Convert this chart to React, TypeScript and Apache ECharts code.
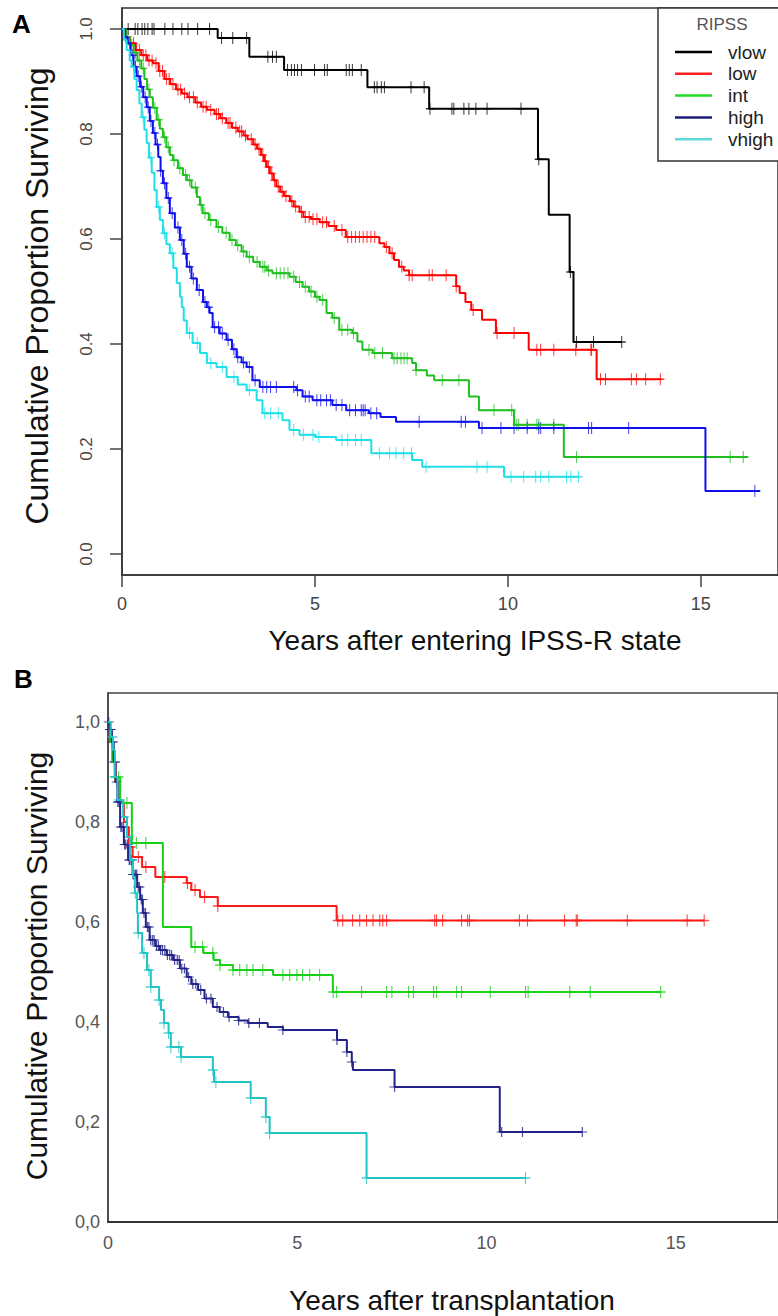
import React, { useEffect, useRef } from "react";
import * as echarts from "echarts";

// ---------- Panel A (years after entering IPSS-R state) ----------
// step points: [time, survival after the drop]
const aVlowSteps = [[0, 1], [2.48, 0.983], [3.3, 0.947], [4.2, 0.922], [6.36, 0.889], [7.96, 0.848], [10.78, 0.752], [11.06, 0.646], [11.6, 0.537], [11.7, 0.404]];
const aVlowEnd = 12.95;
const aVlowCensor = [0.16, 0.34, 0.41, 0.52, 0.59, 0.67, 0.78, 0.83, 1.11, 1.32, 1.55, 1.71, 1.96, 2.27, 2.58, 2.87, 3.23, 3.78, 3.9, 4.0, 4.29, 4.39, 4.47, 4.55, 4.65, 4.99, 5.25, 5.32, 5.81, 5.89, 5.97, 6.2, 6.54, 6.61, 6.72, 6.8, 7.49, 7.83, 7.98, 8.55, 8.6, 8.86, 8.99, 9.17, 9.46, 10.34, 10.8, 11.62, 11.78, 12.22, 12.95];

const aLowSteps = [[0, 1], [0.1, 0.985], [0.2, 0.973], [0.35, 0.96], [0.5, 0.95], [0.65, 0.94], [0.8, 0.935], [0.95, 0.92], [1.1, 0.905], [1.25, 0.895], [1.4, 0.885], [1.55, 0.877], [1.7, 0.87], [1.9, 0.86], [2.05, 0.852], [2.2, 0.846], [2.4, 0.838], [2.55, 0.83], [2.7, 0.821], [2.85, 0.812], [3.0, 0.805], [3.15, 0.797], [3.25, 0.79], [3.4, 0.78], [3.5, 0.772], [3.6, 0.76], [3.68, 0.748], [3.75, 0.737], [3.83, 0.725], [3.92, 0.712], [4.0, 0.7], [4.1, 0.69], [4.2, 0.682], [4.35, 0.672], [4.45, 0.662], [4.6, 0.652], [4.7, 0.642], [4.9, 0.638], [5.12, 0.632], [5.35, 0.625], [5.55, 0.617], [5.8, 0.604], [6.67, 0.592], [6.8, 0.585], [6.93, 0.573], [7.05, 0.56], [7.18, 0.547], [7.3, 0.54], [7.44, 0.531], [8.66, 0.51], [8.75, 0.497], [8.9, 0.48], [9.05, 0.465], [9.33, 0.446], [9.69, 0.421], [10.54, 0.389], [12.3, 0.333]];
const aLowEnd = 13.98;
const aLowCensor = [0.12, 0.22, 0.3, 0.38, 0.45, 0.55, 0.62, 0.7, 0.78, 0.88, 0.98, 1.05, 1.15, 1.22, 1.32, 1.45, 1.52, 1.62, 1.75, 1.85, 1.95, 2.1, 2.18, 2.3, 2.45, 2.5, 2.6, 2.75, 2.8, 2.95, 3.05, 3.1, 3.2, 3.35, 3.45, 3.55, 3.65, 3.72, 3.8, 3.88, 3.95, 4.05, 4.15, 4.25, 4.4, 4.5, 4.65, 4.75, 4.85, 4.95, 5.05, 5.2, 5.3, 5.5, 5.7, 5.85, 5.95, 6.05, 6.15, 6.25, 6.35, 6.45, 6.55, 6.85, 7.0, 7.25, 7.44, 7.52, 7.96, 8.04, 8.4, 8.66, 9.1, 9.72, 10.16, 10.75, 10.85, 11.19, 11.76, 12.15, 12.17, 12.4, 12.53, 13.2, 13.33, 13.57, 13.95];

const aIntSteps = [[0, 1], [0.1, 0.985], [0.2, 0.97], [0.3, 0.955], [0.4, 0.94], [0.5, 0.925], [0.58, 0.905], [0.65, 0.885], [0.72, 0.87], [0.8, 0.85], [0.9, 0.827], [0.98, 0.81], [1.06, 0.794], [1.15, 0.775], [1.24, 0.76], [1.32, 0.75], [1.45, 0.735], [1.58, 0.722], [1.68, 0.712], [1.8, 0.698], [1.94, 0.68], [2.02, 0.665], [2.09, 0.649], [2.25, 0.636], [2.45, 0.623], [2.6, 0.612], [2.79, 0.598], [2.95, 0.588], [3.1, 0.576], [3.23, 0.566], [3.4, 0.556], [3.57, 0.547], [3.75, 0.54], [3.9, 0.535], [4.34, 0.528], [4.5, 0.518], [4.68, 0.509], [4.85, 0.5], [5.0, 0.49], [5.12, 0.484], [5.3, 0.459], [5.45, 0.45], [5.63, 0.427], [5.97, 0.421], [6.1, 0.405], [6.23, 0.389], [6.5, 0.383], [7.0, 0.373], [7.52, 0.364], [7.62, 0.35], [7.9, 0.34], [8.09, 0.331], [8.99, 0.3], [9.25, 0.274], [10.16, 0.246], [11.45, 0.185]];
const aIntEnd = 16.23;
const aIntCensor = [0.15, 0.25, 0.35, 0.45, 0.55, 0.7, 0.85, 0.95, 1.1, 1.2, 1.35, 1.5, 1.65, 1.75, 1.9, 2.05, 2.15, 2.3, 2.5, 2.7, 2.85, 3.0, 3.15, 3.3, 3.5, 3.65, 3.7, 3.8, 4.0, 4.1, 4.2, 4.3, 4.45, 4.6, 4.75, 4.9, 5.05, 5.2, 5.5, 5.7, 5.85, 6.0, 6.4, 6.55, 6.75, 7.05, 7.13, 7.23, 7.31, 7.39, 7.62, 8.3, 8.73, 9.64, 10.1, 10.23, 10.28, 10.5, 10.75, 10.8, 11.19, 11.78, 15.76, 16.1];

const aHighSteps = [[0, 1], [0.08, 0.985], [0.15, 0.973], [0.22, 0.95], [0.3, 0.928], [0.38, 0.91], [0.47, 0.89], [0.55, 0.87], [0.64, 0.851], [0.72, 0.825], [0.8, 0.802], [0.87, 0.78], [0.94, 0.756], [1.0, 0.73], [1.06, 0.706], [1.15, 0.678], [1.24, 0.649], [1.37, 0.622], [1.5, 0.598], [1.6, 0.572], [1.68, 0.547], [1.8, 0.525], [1.94, 0.503], [2.1, 0.48], [2.2, 0.47], [2.27, 0.459], [2.35, 0.432], [2.53, 0.42], [2.71, 0.408], [2.85, 0.39], [2.97, 0.375], [3.1, 0.365], [3.23, 0.356], [3.38, 0.331], [3.57, 0.318], [4.52, 0.312], [4.68, 0.3], [4.94, 0.293], [5.45, 0.284], [5.81, 0.274], [6.4, 0.268], [6.7, 0.261], [7.1, 0.252], [9.25, 0.24], [15.12, 0.12]];
const aHighEnd = 16.54;
const aHighCensor = [0.1, 0.2, 0.28, 0.35, 0.42, 0.5, 0.6, 0.68, 0.75, 0.85, 0.92, 1.0, 1.1, 1.2, 1.3, 1.45, 1.55, 1.65, 1.75, 1.85, 2.0, 2.15, 2.25, 2.4, 2.5, 2.6, 2.75, 2.9, 3.0, 3.15, 3.3, 3.45, 3.65, 3.75, 3.85, 4.0, 4.45, 4.55, 4.75, 4.85, 5.05, 5.15, 5.3, 5.4, 5.55, 5.7, 5.9, 6.05, 6.2, 6.25, 6.3, 6.45, 6.6, 7.7, 8.79, 8.9, 9.33, 9.82, 10.16, 10.5, 10.8, 10.85, 11.19, 12.09, 12.17, 13.13, 16.4];

const aVhighSteps = [[0, 1], [0.05, 0.979], [0.12, 0.96], [0.2, 0.94], [0.25, 0.928], [0.32, 0.905], [0.38, 0.884], [0.45, 0.858], [0.51, 0.832], [0.58, 0.808], [0.64, 0.783], [0.7, 0.755], [0.77, 0.726], [0.84, 0.693], [0.9, 0.661], [0.98, 0.636], [1.06, 0.611], [1.15, 0.59], [1.24, 0.573], [1.33, 0.545], [1.42, 0.516], [1.5, 0.49], [1.55, 0.47], [1.6, 0.445], [1.68, 0.421], [1.83, 0.402], [2.02, 0.383], [2.2, 0.364], [2.45, 0.356], [2.71, 0.337], [3.0, 0.323], [3.23, 0.312], [3.49, 0.293], [3.64, 0.268], [4.16, 0.255], [4.34, 0.236], [4.6, 0.227], [5.0, 0.223], [5.55, 0.217], [6.46, 0.192], [7.52, 0.179], [7.78, 0.166], [9.9, 0.147]];
const aVhighEnd = 11.83;
const aVhighCensor = [0.3, 0.55, 0.75, 0.95, 1.1, 1.3, 1.75, 1.95, 2.3, 2.6, 2.9, 3.3, 3.7, 3.85, 4.05, 4.45, 4.7, 4.95, 5.1, 5.7, 5.85, 6.05, 6.2, 6.67, 6.93, 7.1, 7.3, 7.5, 7.88, 9.2, 9.46, 10.08, 10.41, 10.72, 10.85, 11.06, 11.52, 11.63, 11.83];

// ---------- Panel B (years after transplantation) ----------
const bLowSteps = [[0, 1], [0.05, 0.96], [0.12, 0.92], [0.2, 0.88], [0.3, 0.84], [0.42, 0.8], [0.5, 0.79], [0.55, 0.75], [0.65, 0.73], [0.9, 0.71], [1.25, 0.69], [2.08, 0.678], [2.2, 0.664], [2.43, 0.65], [2.9, 0.632], [6.04, 0.603]];
const bLowEnd = 15.75;
const bLowCensor = [0.6, 0.8, 1.0, 1.5, 2.1, 2.3, 2.55, 2.9, 6.07, 6.2, 6.46, 6.65, 6.83, 7.0, 7.18, 7.26, 7.36, 8.63, 8.68, 8.84, 9.34, 9.5, 9.55, 10.87, 11.08, 12.06, 12.37, 12.4, 13.72, 15.3, 15.75];

const bIntSteps = [[0, 1], [0.06, 0.96], [0.12, 0.92], [0.18, 0.89], [0.32, 0.838], [0.63, 0.758], [1.45, 0.59], [2.2, 0.55], [2.52, 0.538], [2.79, 0.524], [2.96, 0.514], [3.3, 0.504], [4.36, 0.494], [5.94, 0.46]];
const bIntEnd = 14.6;
const bIntCensor = [0.18, 0.28, 0.5, 0.75, 1.0, 2.3, 2.5, 2.77, 2.96, 3.3, 3.48, 3.67, 3.83, 4.09, 4.62, 4.8, 4.99, 5.14, 5.33, 5.59, 5.95, 6.04, 6.7, 7.36, 7.5, 7.94, 8.07, 8.6, 8.68, 9.21, 9.34, 10.1, 11.03, 11.1, 12.2, 12.74, 14.6];

const bHighSteps = [[0, 1], [0.05, 0.985], [0.1, 0.96], [0.15, 0.92], [0.2, 0.88], [0.25, 0.84], [0.32, 0.79], [0.42, 0.755], [0.53, 0.724], [0.65, 0.695], [0.77, 0.67], [0.85, 0.645], [0.92, 0.618], [1.0, 0.59], [1.1, 0.564], [1.25, 0.552], [1.37, 0.544], [1.55, 0.534], [1.72, 0.524], [1.9, 0.507], [2.08, 0.49], [2.2, 0.476], [2.38, 0.464], [2.55, 0.447], [2.77, 0.43], [2.95, 0.42], [3.17, 0.41], [3.45, 0.403], [3.7, 0.398], [4.22, 0.39], [4.62, 0.384], [6.05, 0.364], [6.31, 0.34], [6.44, 0.32], [6.47, 0.304], [7.57, 0.27], [10.35, 0.18]];
const bHighEnd = 12.53;
const bHighCensor = [0.02, 0.05, 0.07, 0.11, 0.13, 0.17, 0.19, 0.23, 0.26, 0.29, 0.31, 0.34, 0.37, 0.41, 0.44, 0.47, 0.52, 0.56, 0.58, 0.62, 0.66, 0.69, 0.73, 0.76, 0.8, 0.83, 0.88, 0.91, 0.95, 0.99, 1.04, 1.08, 1.13, 1.18, 1.22, 1.28, 1.33, 1.39, 1.44, 1.5, 1.57, 1.63, 1.68, 1.76, 1.83, 1.88, 1.95, 2.02, 2.13, 2.24, 2.32, 2.45, 2.6, 2.72, 2.88, 3.05, 3.2, 3.45, 3.72, 4.0, 4.62, 6.05, 6.31, 6.44, 7.57, 10.4, 10.95, 12.53];

const bVhighSteps = [[0, 1], [0.07, 0.97], [0.13, 0.944], [0.18, 0.89], [0.25, 0.844], [0.4, 0.81], [0.5, 0.77], [0.58, 0.724], [0.66, 0.69], [0.71, 0.658], [0.77, 0.618], [0.79, 0.578], [0.9, 0.538], [1.03, 0.504], [1.13, 0.47], [1.35, 0.444], [1.4, 0.424], [1.48, 0.398], [1.6, 0.378], [1.66, 0.35], [1.93, 0.33], [2.77, 0.304], [2.8, 0.28], [3.77, 0.248], [4.17, 0.21], [4.27, 0.178], [6.83, 0.088]];
const bVhighEnd = 11.03;
const bVhighCensor = [0.12, 0.2, 0.3, 0.42, 0.55, 0.63, 0.72, 0.8, 0.95, 1.08, 1.13, 1.35, 1.48, 1.6, 1.66, 1.87, 1.93, 2.77, 2.85, 3.77, 4.17, 4.27, 6.83, 11.03];

const yTicks = [0, 0.2, 0.4, 0.6, 0.8, 1.0];
const xTicks = [0, 5, 10, 15];
const legendNames = ["vlow", "low", "int", "high", "vhigh"];
const legendColors = ["#000000", "#ff2020", "#22dd22", "#1c1c7a", "#5ed8d8"];

const FONT = "'Liberation Sans', Arial, Helvetica, sans-serif";
const PLUS = "path://M5,0L5,10M0,5L10,5";

function valueAt(steps: number[][], t: number): number {
  let s = steps[0][1];
  for (const p of steps) {
    if (p[0] <= t) s = p[1];
    else break;
  }
  return s;
}

function kmSeries(steps: number[][], end: number, censor: number[], color: string, grid: number, width: number, markSize: number[]) {
  const line = {
    type: "line",
    xAxisIndex: grid,
    yAxisIndex: grid,
    step: "end",
    showSymbol: false,
    silent: true,
    lineStyle: { color, width },
    data: [...steps, [end, steps[steps.length - 1][1]]],
  };
  const marks = {
    type: "scatter",
    xAxisIndex: grid,
    yAxisIndex: grid,
    symbol: PLUS,
    symbolSize: markSize,
    silent: true,
    itemStyle: { color, borderColor: color, borderWidth: 1.2 },
    data: censor.map((t) => [t, valueAt(steps, t)]),
  };
  return [line, marks];
}

export default function App() {
  const ref = useRef<HTMLDivElement>(null);
  useEffect(() => {
    if (!ref.current) return;
    const chart = echarts.init(ref.current, undefined, { renderer: "svg" });

    const series: any[] = [
      ...kmSeries(aVlowSteps, aVlowEnd, aVlowCensor, "#000000", 0, 2, [8, 12]),
      ...kmSeries(aLowSteps, aLowEnd, aLowCensor, "#ff0000", 0, 2, [8, 12]),
      ...kmSeries(aIntSteps, aIntEnd, aIntCensor, "#1fbf1f", 0, 2, [8, 12]),
      ...kmSeries(aHighSteps, aHighEnd, aHighCensor, "#1010ee", 0, 2, [8, 12]),
      ...kmSeries(aVhighSteps, aVhighEnd, aVhighCensor, "#1ee0e8", 0, 2, [8, 12]),
      ...kmSeries(bLowSteps, bLowEnd, bLowCensor, "#ff1a1a", 1, 2, [10, 12]),
      ...kmSeries(bIntSteps, bIntEnd, bIntCensor, "#18d018", 1, 2, [10, 12]),
      ...kmSeries(bHighSteps, bHighEnd, bHighCensor, "#22238a", 1, 2, [10, 10]),
      ...kmSeries(bVhighSteps, bVhighEnd, bVhighCensor, "#22c4c4", 1, 2, [10, 12]),
    ];

    const legendGraphics: any[] = [
      { type: "rect", z: 100, shape: { x: 658, y: 8, width: 140, height: 153 }, style: { fill: "#fff", stroke: "#333", lineWidth: 1.5 } },
      { type: "text", z: 101, x: 722, y: 24, style: { text: "RIPSS", fontSize: 17, fill: "#555", fontFamily: FONT, align: "center", verticalAlign: "middle" } },
    ];
    legendNames.forEach((n, i) => {
      const y = 52 + i * 21.8;
      legendGraphics.push({ type: "line", z: 101, shape: { x1: 675, y1: y, x2: 712, y2: y }, style: { stroke: legendColors[i], lineWidth: 2.5 } });
      legendGraphics.push({ type: "text", z: 101, x: 728, y, style: { text: n, fontSize: 19, fill: "#222", fontFamily: FONT, align: "left", verticalAlign: "middle" } });
    });

    chart.setOption({
      animation: false,
      backgroundColor: "#ffffff",
      textStyle: { fontFamily: FONT },
      grid: [
        { left: 122, top: 8, width: 658, height: 567, show: true, borderColor: "#333", borderWidth: 1.5 },
        { left: 108, top: 693, width: 671, height: 529, show: true, borderColor: "#444", borderWidth: 1.5 },
      ],
      xAxis: [
        {
          gridIndex: 0, type: "value", min: 0, max: 17, position: "bottom",
          axisLine: { show: true, onZero: false, lineStyle: { color: "#333", width: 1.5 } },
          axisTick: { show: true, length: 12, customValues: xTicks, lineStyle: { color: "#444", width: 1.5 } },
          axisLabel: { customValues: xTicks, fontSize: 18, color: "#444", margin: 20, fontFamily: FONT },
          splitLine: { show: false },
        },
        {
          gridIndex: 1, type: "value", min: 0, max: 17.7, position: "bottom",
          axisLine: { show: true, onZero: false, lineStyle: { color: "#333", width: 2 } },
          axisTick: { show: false },
          axisLabel: { customValues: xTicks, fontSize: 18, color: "#555", margin: 12, fontFamily: FONT },
          splitLine: { show: false },
        },
      ],
      yAxis: [
        {
          gridIndex: 0, type: "value", min: -0.04, max: 1.04, position: "left",
          axisLine: { show: true, onZero: false, lineStyle: { color: "#333", width: 1.5 } },
          axisTick: { show: true, length: 12, customValues: yTicks, lineStyle: { color: "#444", width: 1.5 } },
          axisLabel: { customValues: yTicks, rotate: 90, fontSize: 17, color: "#444", margin: 27, fontFamily: FONT, formatter: (v: number) => v.toFixed(1) },
          splitLine: { show: false },
        },
        {
          gridIndex: 1, type: "value", min: 0, max: 1.058, position: "left",
          axisLine: { show: true, onZero: false, lineStyle: { color: "#444", width: 1.5 } },
          axisTick: { show: false },
          axisLabel: { customValues: yTicks, fontSize: 18, color: "#555", margin: 8, fontFamily: FONT, formatter: (v: number) => v.toFixed(1).replace(".", ",") },
          splitLine: { show: false },
        },
      ],
      series,
      graphic: [
        { type: "text", x: 12, y: 24, style: { text: "A", fontSize: 26, fontWeight: "bold", fill: "#000", fontFamily: FONT, verticalAlign: "middle" } },
        { type: "text", x: 14, y: 679, style: { text: "B", fontSize: 26, fontWeight: "bold", fill: "#000", fontFamily: FONT, verticalAlign: "middle" } },
        { type: "text", x: 37, y: 296, rotation: Math.PI / 2, style: { text: "Cumulative Proportion Surviving", fontSize: 32, fill: "#111", fontFamily: FONT, align: "center", verticalAlign: "middle" } },
        { type: "text", x: 475, y: 640, style: { text: "Years after entering IPSS-R state", fontSize: 28, fill: "#111", fontFamily: FONT, align: "center", verticalAlign: "middle" } },
        { type: "text", x: 36, y: 966, rotation: Math.PI / 2, style: { text: "Cumulative Proportion Surviving", fontSize: 30, fill: "#111", fontFamily: FONT, align: "center", verticalAlign: "middle" } },
        { type: "text", x: 452, y: 1300, style: { text: "Years after transplantation", fontSize: 28, fill: "#111", fontFamily: FONT, align: "center", verticalAlign: "middle" } },
        ...legendGraphics,
      ],
    });
    return () => chart.dispose();
  }, []);

  return <div ref={ref} style={{ position: "absolute", left: 0, top: 0, width: 778, height: 1316, background: "#fff" }} />;
}
